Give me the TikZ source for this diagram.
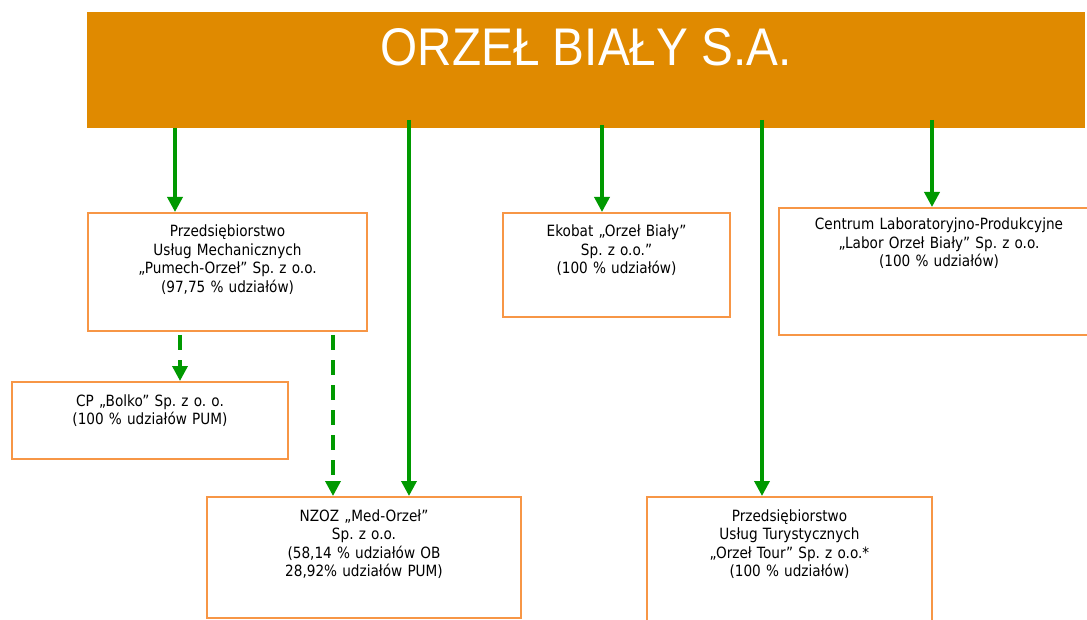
\documentclass[tikz,border=0pt]{standalone}
\usepackage{fontspec}
\usetikzlibrary{arrows.meta}
\newfontfamily\titlefont[FakeStretch=0.9]{Liberation Sans}
\newfontfamily\boxfont[FakeStretch=0.88]{DejaVu Sans}
\definecolor{bannerorange}{RGB}{224,138,0}
\definecolor{boxorange}{RGB}{247,150,70}
\definecolor{linkgreen}{RGB}{0,153,0}
\frenchspacing

\begin{document}
\begin{tikzpicture}[
  x=1pt, y=-1pt,
  banner/.style  = {rectangle, fill=bannerorange, text=white, anchor=north west,
                    inner sep=0pt, minimum width=998pt,
                    text height=53pt, text depth=63pt,
                    font=\titlefont\fontsize{53}{60}\selectfont},
  orgbox/.style 2 args = {rectangle, draw=boxorange, line width=2pt,
                    anchor=north west, inner sep=0pt, align=center,
                    text width=#1, text height=24pt, text depth=#2,
                    font=\boxfont\fontsize{15.5}{18.5}\selectfont},
  link/.style    = {-{Triangle[length=15pt, width=15pt]}, line width=3.5pt,
                    linkgreen},
  dashlink/.style = {link, dash pattern=on 15pt off 10pt}
]
\clip (0,0) rectangle (1087,620);

%% --- Parent company -------------------------------------------
\node[banner] (orzel) at (87,12) {ORZEŁ BIAŁY S.A.};

%% --- Subsidiaries ---------------------------------------------
\node[orgbox={279pt}{94pt}] (pumech) at (87,212)
  {Przedsiębiorstwo\\Usług Mechanicznych\\„Pumech-Orzeł” Sp. z o.o.\\(97,75 \% udziałów)};

\node[orgbox={276pt}{53pt}] (bolko) at (11,381)
  {CP „Bolko” Sp. z o. o.\\(100 \% udziałów PUM)};

\node[orgbox={314pt}{97pt}] (medorzel) at (206,496)
  {NZOZ „Med-Orzeł”\\Sp. z o.o.\\(58,14 \% udziałów OB\\28,92\% udziałów PUM)};

\node[orgbox={227pt}{80pt}] (ekobat) at (502,212)
  {Ekobat „Orzeł Biały”\\Sp. z o.o.”\\(100 \% udziałów)};

\node[orgbox={320pt}{105pt}, text height=22pt] (labor) at (778,207)
  {Centrum Laboratoryjno-Produkcyjne\\„Labor Orzeł Biały” Sp. z o.o.\\(100 \% udziałów)};

\node[orgbox={285pt}{120pt}] (tour) at (646,496)
  {Przedsiębiorstwo\\Usług Turystycznych\\„Orzeł Tour” Sp. z o.o.*\\(100 \% udziałów)};

%% --- Start points of the links --------------------------------
\coordinate (s1) at (175,128);
\coordinate (s2) at (409,120);
\coordinate (s3) at (602,125);
\coordinate (s4) at (762,120);
\coordinate (s5) at (932,120);
\coordinate (d1) at (180,335);
\coordinate (d2) at (333,335);

%% --- Direct holdings (solid) ----------------------------------
\draw[link] (s1) -- (s1 |- pumech.north);
\draw[link] (s2) -- (s2 |- medorzel.north);
\draw[link] (s3) -- (s3 |- ekobat.north);
\draw[link] (s4) -- (s4 |- tour.north);
\draw[link] (s5) -- (s5 |- labor.north);

%% --- Holdings of PUM (dashed) ---------------------------------
\draw[dashlink] (d1) -- (d1 |- bolko.north);
\draw[dashlink] (d2) -- (d2 |- medorzel.north);

\end{tikzpicture}
\end{document}
